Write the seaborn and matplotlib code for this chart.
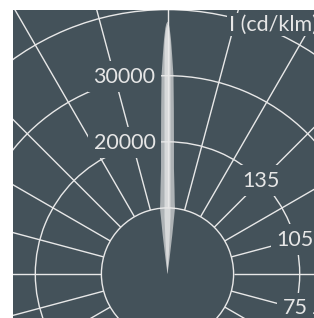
import numpy as np
import matplotlib
matplotlib.use('Agg')
import matplotlib.pyplot as plt
import seaborn as sns
from matplotlib.patches import Rectangle

# luminous intensity near gamma = 180 deg, offset from 180 (deg) -> cd/klm
outer_offsets = [0, 0.3, 0.5, 0.85, 1.2, 1.73, 2.2, 2.8, 3.5, 4.8, 5.7, 6.5, 7.0, 7.5, 8.0, 9.0, 10.0]
outer_values = [38200, 37800, 37200, 35500, 33200, 30000, 25000, 20000, 16000, 12700, 11000, 10000,
                6000, 2500, 800, 200, 0]
inner_offsets = [0, 0.3, 0.5, 0.75, 1.0, 1.3, 1.7, 2.2, 2.6, 3.0, 3.5, 4.0, 5.0, 6.0]
inner_values = [37800, 37200, 36300, 34500, 26000, 20000, 15300, 11800, 10000, 8700, 5000, 2500, 500, 0]

ring_values = [10000, 20000, 30000, 40000, 50000]
ring_labels = [20000, 30000]
angle_labels = [75, 105, 135]
spoke_angles = list(range(0, 360, 15))
unit_label = 'I (cd/klm)'

bg = '#44525a'
line_c = '#e8e8e8'
text_c = '#e6e6e6'

sns.set_theme(style='dark')
plt.rcParams['font.family'] = ['Lato', 'DejaVu Sans']

W, H = 314, 318
cx, cy = 167.5, 274.0          # pole position in pixels (from top-left)
px_per_unit = 66.1 / 10000
rmax = 52000
R = rmax * px_per_unit

fig = plt.figure(figsize=(W / 100, H / 100), dpi=100, facecolor=bg)
ax = fig.add_axes([(cx - R) / W, (H - cy - R) / H, 2 * R / W, 2 * R / H], projection='polar')
ax.set_facecolor('none')
ax.set_theta_zero_location('S')
ax.set_theta_direction(1)
ax.set_ylim(0, rmax)
ax.spines['polar'].set_visible(False)
ax.set_axisbelow(False)

ax.set_xticks([])
ax.xaxis.grid(False)
ax.set_yticks(ring_values)
ax.set_yticklabels([])
ax.yaxis.grid(True, color=line_c, lw=1.0)


def mirrored(offsets, values):
    off = np.asarray(offsets, dtype=float)
    val = np.asarray(values, dtype=float)
    th = np.concatenate([180 + off[::-1], 180 - off[1:]])
    rr = np.concatenate([val[::-1], val[1:]])
    return np.deg2rad(th), rr


th, rr = mirrored(outer_offsets, outer_values)
ax.fill(th, rr, color='#aeb3b6', lw=0, zorder=1)
th, rr = mirrored(inner_offsets, inner_values)
ax.fill(th, rr, color='#d7d9da', lw=0, zorder=1.1)

# spokes start at the first ring
for a in spoke_angles:
    t = np.deg2rad(a)
    ax.plot([t, t], [ring_values[0], rmax], color=line_c, lw=1.0, zorder=2,
            solid_capstyle='butt')

box = dict(boxstyle='square,pad=0.25', facecolor=bg, edgecolor='none')
for r in ring_labels:
    ax.annotate(f'{r}', xy=(np.pi, r), xytext=(-12, -1), textcoords='offset pixels',
                ha='right', va='center', fontsize=15.5, color=text_c,
                bbox=box, zorder=4)
for a in angle_labels:
    ax.text(np.deg2rad(a), 20000, f'{a}', ha='center', va='center', fontsize=15.5,
            color=text_c, bbox=box, zorder=4)

fig.text(229 / W, 1 - 30.5 / H, unit_label, ha='left', va='baseline', fontsize=15.5,
         color=text_c,
         bbox=dict(boxstyle='square,pad=0.08', facecolor=bg, edgecolor='none'))

# white margin of the cropped panel
fig.add_artist(Rectangle((0, 0), 13 / W, 1, transform=fig.transFigure,
                         facecolor='white', edgecolor='none', zorder=10))
fig.add_artist(Rectangle((0, 1 - 9.6 / H), 1, 9.6 / H, transform=fig.transFigure,
                         facecolor='white', edgecolor='none', zorder=10))

fig.savefig('out.png', dpi=100, facecolor=bg)
